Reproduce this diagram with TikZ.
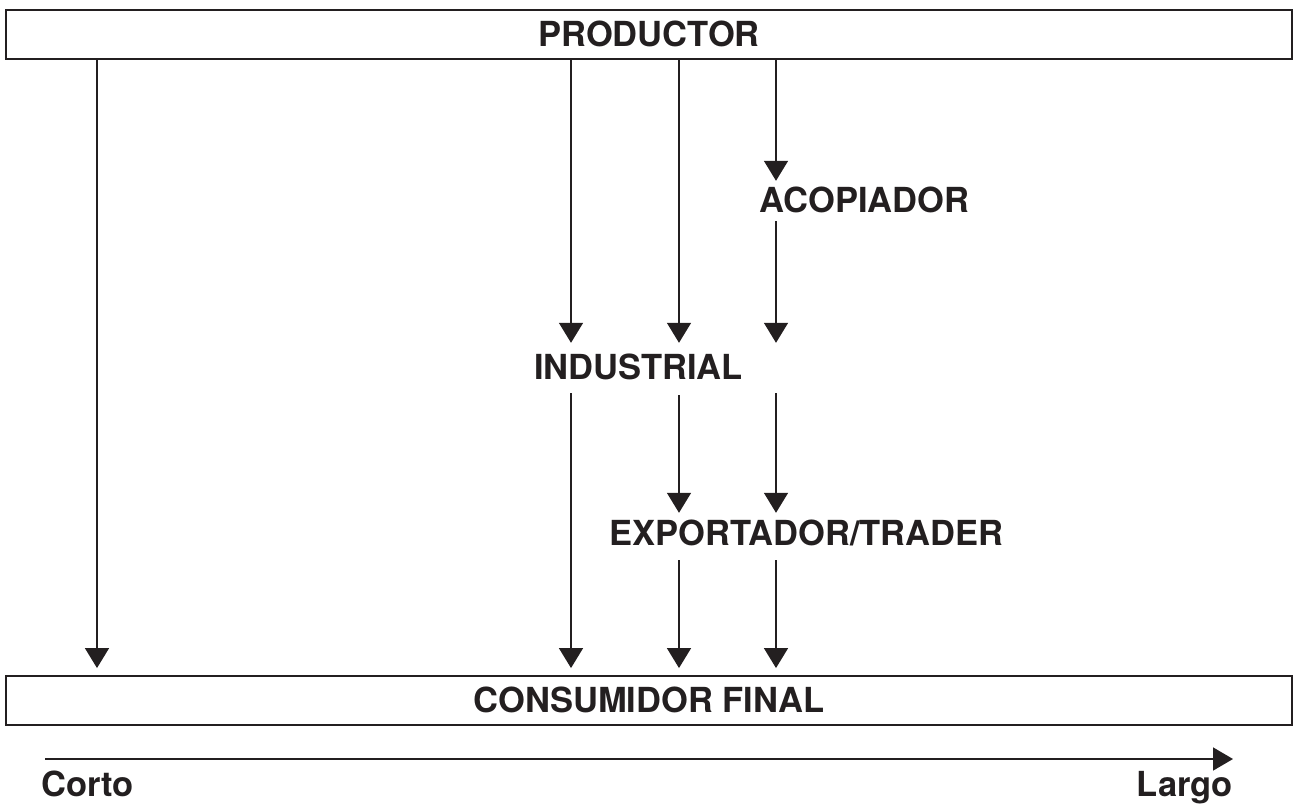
\documentclass[tikz,border=0pt]{standalone}
\usepackage{fontspec}
\setmainfont{TeX Gyre Heros}
\usetikzlibrary{arrows.meta}
\definecolor{ink}{HTML}{231F20}
\begin{document}
\begin{tikzpicture}[x=1pt,y=-1pt,
  every node/.style={text=ink},
  lbl/.style={font=\bfseries\fontsize{34.5}{36}\selectfont, inner sep=0pt,
              text height=24.8pt, text depth=0pt},
  bar/.style={lbl, draw=ink, line width=1.9pt, minimum width=1286pt,
              minimum height=49pt},
  flow/.style={draw=ink, line width=1.6pt,
               -{Triangle[width=24pt,length=20pt]}},
  axis/.style={draw=ink, line width=1.6pt,
               -{Triangle[width=23pt,length=20pt]}}]
  \useasboundingbox (0,0) rectangle (1297,805);

  % channel levels
  \node[bar] (prod) at (649,34.5) {PRODUCTOR};
  \node[bar] (cons) at (649,700.5) {CONSUMIDOR FINAL};
  \node[lbl, anchor=south] (acop) at (864.5,213) {ACOPIADOR};
  \node[lbl, anchor=south] (ind) at (638.5,380) {INDUSTRIAL};
  \node[lbl, anchor=south] (exp) at (806.5,546) {EXPORTADOR/TRADER};

  % column positions of the channels
  \coordinate (c1) at (97,0);
  \coordinate (c2) at (571,0);
  \coordinate (c3) at (679,0);
  \coordinate (c4) at (776,0);

  % direct sale
  \draw[flow, shorten >=7pt] (prod.south -| c1) -- (cons.north -| c1);
  % producer to industry
  \draw[flow, shorten >=12pt] (prod.south -| c2) -- (ind.north -| c2);
  \draw[flow, shorten >=12pt] (prod.south -| c3) -- (ind.north -| c3);
  % producer to collector and on
  \draw[flow, shorten >=7pt] (prod.south -| c4) -- (acop.north -| c4);
  \draw[flow, shorten <=8pt, shorten >=12pt] (acop.south -| c4) -- (ind.north -| c4);
  % industry onwards
  \draw[flow, shorten <=13pt, shorten >=7pt] (ind.south -| c2) -- (cons.north -| c2);
  \draw[flow, shorten <=15pt, shorten >=8pt] (ind.south -| c3) -- (exp.north -| c3);
  \draw[flow, shorten <=13pt, shorten >=8pt] (ind.south -| c4) -- (exp.north -| c4);
  % exporter to final consumer
  \draw[flow, shorten <=14pt, shorten >=7pt] (exp.south -| c3) -- (cons.north -| c3);
  \draw[flow, shorten <=14pt, shorten >=7pt] (exp.south -| c4) -- (cons.north -| c4);

  % channel length axis
  \node[lbl, anchor=south west] (corto) at (41,797) {Corto};
  \node[lbl, anchor=south east] (largo) at (1233,797) {Largo};
  \coordinate (a0) at (45,759);
  \coordinate (a1) at (1233,759);
  \draw[axis] (a0) -- (a1);
\end{tikzpicture}
\end{document}
